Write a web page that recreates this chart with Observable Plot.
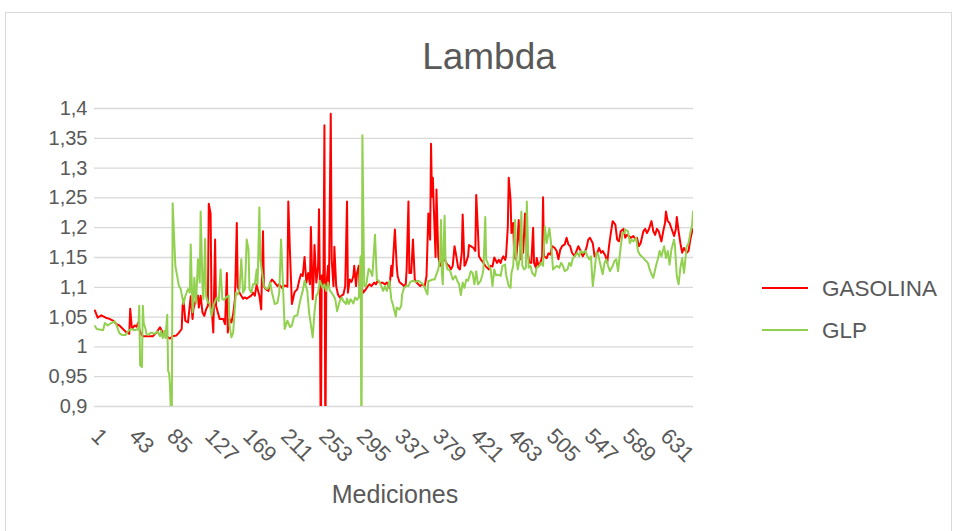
<!DOCTYPE html>
<html><head><meta charset="utf-8">
<script src="https://cdn.jsdelivr.net/npm/d3@7"></script>
<script src="https://cdn.jsdelivr.net/npm/@observablehq/plot@0.6"></script>
<style>
body{margin:0;background:#fff;font-family:"Liberation Sans",Arial,sans-serif;}
#chart{position:relative;width:956px;height:531px;overflow:hidden;}
#frame{position:absolute;left:5px;top:12px;width:947px;height:530px;border:1px solid #d9d9d9;box-sizing:border-box;}
#plot{position:absolute;left:0;top:0;}
.txt{position:absolute;color:#595959;white-space:nowrap;}
#title{left:0;width:978px;text-align:center;top:38px;font-size:37px;line-height:37px;}
#xlabel{left:0;width:790px;text-align:center;top:482px;font-size:25px;line-height:25px;}
.leg{position:absolute;left:762px;height:22px;font-size:22.5px;line-height:22px;color:#595959;white-space:nowrap;}
.leg span.sw{display:inline-block;width:46px;height:0;border-top:2px solid;vertical-align:middle;margin-right:14px;position:relative;top:-2px;}
</style></head>
<body>
<div id="chart">
  <div id="frame"></div>
  <div id="plot"></div>
  <div id="title" class="txt">Lambda</div>
  <div id="xlabel" class="txt">Mediciones</div>
  <div class="leg" style="top:278px"><span class="sw" style="border-color:#ff0000"></span>GASOLINA</div>
  <div class="leg" style="top:320px"><span class="sw" style="border-color:#92d050"></span>GLP</div>
</div>
<script>
const seriesNames = ["GASOLINA", "GLP"];
const seriesColors = ["#ff0000", "#92d050"];
const nMediciones = 663;
const xTicks = [1,43,85,127,169,211,253,295,337,379,421,463,505,547,589,631];
const yTicks = [0.9,0.95,1,1.05,1.1,1.15,1.2,1.25,1.3,1.35,1.4];

const gasolinaX = [1,4,8,13,17,21,25,28,32,36,39,40,42,45,47,49,50,52,54,58,61,65,69,73,74,76,80,84,87,91,94,97,98,99,101,104,107,109,
110,111,113,115,116,118,120,122,124,126,127,129,130,132,134,135,137,139,141,143,145,147,148,150,152,154,156,158,159,161,163,165,167,169,171,174,176,178,180,181,183,185,187,188,190,193,195,197,200,203,205,208,211,214,215,217,219,
222,225,227,229,231,233,235,237,239,240,242,243,244,246,248,249,250,251,252,253,254,255,256,257,259,260,262,263,265,266,268,270,272,274,276,278,280,281,283,285,287,288,290,291,293,294,296,298,301,303,305,307,310,312,314,317,319,322,324,327,329,330,
331,333,335,336,338,341,343,345,346,348,349,351,353,355,357,359,361,363,366,368,370,372,373,374,375,376,378,379,381,383,384,386,388,391,393,395,397,399,401,403,405,407,408,410,411,414,415,417,420,422,423,425,426,428,431,433,435,437,439,
441,443,444,446,448,450,451,453,455,456,458,459,461,462,464,465,467,468,470,472,473,475,477,479,480,482,484,486,487,489,490,492,494,496,497,498,501,503,505,507,510,512,514,516,518,521,523,525,527,529,532,534,536,538,541,543,545,547,549,
552,554,557,559,561,563,566,568,570,572,574,577,579,581,583,586,588,590,592,594,597,599,601,603,605,608,610,612,614,617,619,621,623,625,628,630,632,633,635,637,639,642,644,645,647,649,651,653,656,658,660,662,663];
const gasolinaY = [1.061,1.049,1.053,1.049,1.047,1.044,1.038,1.036,1.03,1.024,1.022,1.064,1.03,1.036,1.034,1.041,1.03,1.022,1.018,1.018,1.018,1.018,1.024,1.033,1.03,1.024,1.018,1.014,1.018,1.019,1.024,1.03,1.068,1.08,1.044,1.041,1.085,1.047,
1.064,1.07,1.08,1.086,1.066,1.086,1.058,1.052,1.063,1.069,1.24,1.224,1.069,1.024,1.18,1.069,1.058,1.047,1.047,1.047,1.038,1.124,1.024,1.047,1.041,1.055,1.08,1.208,1.102,1.091,1.086,1.081,1.083,1.081,1.083,1.086,1.091,1.086,1.105,1.097,1.086,1.063,1.194,1.102,1.097,1.094,1.108,1.113,1.108,1.102,1.105,1.099,1.103,1.101,1.244,1.152,1.072,
1.092,1.097,1.111,1.122,1.119,1.151,1.108,1.124,1.105,1.201,1.08,1.113,1.171,1.108,1.136,1.231,1.10,0.8,1.12,1.10,1.13,1.372,0.8,1.102,1.136,1.102,1.391,1.147,1.102,1.168,1.102,1.088,1.083,1.086,1.088,1.102,1.244,1.091,1.113,1.109,1.119,1.136,1.102,1.123,1.136,1.097,1.102,1.091,1.097,1.102,1.105,1.102,1.108,1.105,1.111,1.107,1.108,1.105,1.108,1.099,1.136,1.119,
1.147,1.197,1.136,1.119,1.109,1.105,1.102,1.105,1.13,1.244,1.124,1.124,1.18,1.113,1.108,1.105,1.102,1.105,1.102,1.119,1.224,1.18,1.341,1.252,1.284,1.236,1.151,1.264,1.152,1.136,1.141,1.144,1.147,1.138,1.136,1.13,1.136,1.169,1.152,1.133,1.13,1.158,1.222,1.136,1.138,1.152,1.171,1.169,1.166,1.161,1.255,1.191,1.152,1.147,1.141,1.136,1.133,1.13,1.136,
1.135,1.15,1.147,1.141,1.146,1.141,1.146,1.152,1.146,1.152,1.202,1.284,1.247,1.191,1.208,1.152,1.147,1.161,1.213,1.147,1.186,1.158,1.224,1.158,1.158,1.141,1.141,1.2,1.141,1.133,1.149,1.136,1.141,1.152,1.251,1.152,1.149,1.157,1.155,1.169,1.166,1.161,1.147,1.163,1.169,1.172,1.183,1.172,1.169,1.158,1.152,1.161,1.169,1.163,1.152,1.158,1.166,1.18,1.183,
1.174,1.152,1.158,1.166,1.158,1.161,1.153,1.141,1.169,1.191,1.211,1.205,1.18,1.177,1.194,1.198,1.183,1.188,1.186,1.183,1.186,1.181,1.183,1.169,1.174,1.194,1.198,1.191,1.197,1.211,1.194,1.188,1.198,1.194,1.177,1.194,1.208,1.227,1.211,1.208,1.199,1.186,1.198,1.218,1.194,1.174,1.158,1.166,1.158,1.161,1.18,1.194,1.198];

const glpX = [1,3,10,12,15,19,23,25,28,31,35,38,41,45,49,50,51,53,54,55,57,58,60,63,67,70,73,74,76,78,79,81,82,83,84,86,87,90,92,94,96,98,99,101,104,106,107,109,
110,111,113,115,117,118,120,121,123,124,126,128,130,132,135,136,138,140,142,144,146,149,150,152,154,156,157,159,161,163,165,167,169,171,172,174,176,178,180,181,183,184,186,188,191,193,195,197,200,203,205,207,209,211,214,217,219,
221,222,225,227,229,231,233,236,238,241,242,244,246,248,250,253,255,257,259,261,263,265,267,269,272,274,276,279,280,282,284,287,289,291,293,295,296,297,299,301,304,306,308,311,313,315,318,320,322,324,327,329,
331,332,334,335,338,340,341,343,346,348,350,353,356,359,362,364,366,369,370,372,374,377,379,381,383,384,385,386,387,388,389,391,393,395,397,400,402,404,406,408,410,412,414,417,419,421,423,425,428,430,431,433,434,437,439,441,
443,445,448,450,452,455,456,459,461,462,464,466,467,469,471,473,474,476,478,479,481,483,485,488,490,493,495,497,499,501,503,504,506,508,510,512,515,517,519,521,524,526,528,530,532,535,537,539,541,544,546,548,550,
552,554,556,558,560,563,565,567,569,571,574,576,578,580,583,585,587,588,591,593,595,597,600,602,604,606,608,611,613,615,617,619,622,624,626,628,631,633,635,637,639,642,643,645,647,649,651,653,656,658,660,662,663];
const glpY = [1.035,1.03,1.028,1.04,1.036,1.04,1.043,1.036,1.023,1.02,1.02,1.027,1.03,1.028,1.03,1.069,0.969,0.966,1.069,1.04,1.03,1.022,1.02,1.024,1.022,1.026,1.018,1.027,1.015,1.027,1.015,1.054,0.959,0.957,0.937,0.85,1.241,1.136,1.119,1.102,1.097,1.08,1.072,1.085,1.097,1.091,1.172,1.058,
1.074,1.116,1.074,1.147,1.108,1.227,1.102,1.08,1.181,1.086,1.074,1.074,1.052,1.069,1.08,1.083,1.077,1.13,1.08,1.079,1.083,1.086,1.036,1.016,1.024,1.069,1.091,1.088,1.097,1.147,1.091,1.097,1.18,1.163,1.097,1.091,1.105,1.105,1.13,1.105,1.234,1.147,1.124,1.102,1.097,1.099,1.108,1.091,1.072,1.074,1.091,1.18,1.108,1.03,1.044,1.033,1.036,
1.049,1.052,1.053,1.069,1.083,1.094,1.111,1.094,1.058,1.027,1.016,1.058,1.086,1.091,1.111,1.099,1.105,1.094,1.108,1.094,1.091,1.086,1.08,1.06,1.077,1.083,1.077,1.072,1.081,1.072,1.08,1.073,1.083,1.079,1.083,1.152,0.8,1.355,1.102,1.102,1.131,1.127,1.119,1.188,1.113,1.111,1.102,1.094,1.102,1.094,1.111,1.08,
1.07,1.063,1.051,1.066,1.063,1.069,1.088,1.099,1.103,1.102,1.109,1.111,1.109,1.111,1.108,1.105,1.099,1.088,1.111,1.111,1.113,1.113,1.122,1.13,1.149,1.213,1.124,1.105,1.174,1.22,1.147,1.13,1.13,1.124,1.113,1.119,1.111,1.105,1.087,1.108,1.099,1.113,1.111,1.127,1.124,1.105,1.127,1.105,1.111,1.122,1.13,1.218,1.147,1.136,1.13,1.102,
1.13,1.12,1.121,1.119,1.136,1.138,1.122,1.102,1.099,1.124,1.136,1.213,1.152,1.13,1.147,1.227,1.136,1.13,1.133,1.244,1.133,1.136,1.124,1.119,1.133,1.136,1.141,1.136,1.202,1.174,1.191,1.199,1.172,1.13,1.133,1.136,1.133,1.141,1.136,1.127,1.13,1.141,1.136,1.149,1.152,1.158,1.152,1.161,1.158,1.161,1.152,1.147,1.152,
1.102,1.127,1.158,1.155,1.141,1.122,1.141,1.147,1.136,1.127,1.136,1.144,1.147,1.127,1.169,1.191,1.191,1.197,1.194,1.174,1.18,1.177,1.183,1.161,1.155,1.152,1.149,1.144,1.141,1.13,1.122,1.116,1.136,1.147,1.161,1.152,1.169,1.149,1.161,1.138,1.163,1.18,1.169,1.119,1.105,1.133,1.149,1.124,1.169,1.174,1.191,1.205,1.227];

const rows = [
  ...gasolinaX.map((x, i) => ({serie: seriesNames[0], x, y: gasolinaY[i]})),
  ...glpX.map((x, i) => ({serie: seriesNames[1], x, y: glpY[i]}))
];
const fmt = d => String(+d.toFixed(2)).replace(".", ",");

const chart = Plot.plot({
  width: 956, height: 531,
  marginLeft: 94, marginRight: 263, marginTop: 108, marginBottom: 125,
  style: {background: "transparent", fontFamily: "'Liberation Sans', Arial, sans-serif", color: "#595959", overflow: "visible"},
  x: {domain: [0.5, nMediciones + 0.5]},
  y: {domain: [0.9, 1.4]},
  color: {domain: seriesNames, range: seriesColors},
  marks: [
    Plot.gridY({ticks: yTicks, stroke: "#d9d9d9", strokeOpacity: 1, strokeWidth: 1.3}),
    Plot.axisY({ticks: yTicks, tickSize: 0, tickPadding: 7, tickFormat: fmt, fontSize: 20, fill: "#595959", label: null}),
    Plot.axisX({ticks: xTicks, tickSize: 0, tickRotate: 45, tickPadding: 26, dx: 0, fontSize: 22, fill: "#595959", label: null, tickFormat: d => String(d)}),
    Plot.lineY(rows, {x: "x", y: "y", z: "serie", stroke: "serie", strokeWidth: 2, clip: true})
  ]
});
document.getElementById("plot").appendChild(chart);
</script>
</body></html>
